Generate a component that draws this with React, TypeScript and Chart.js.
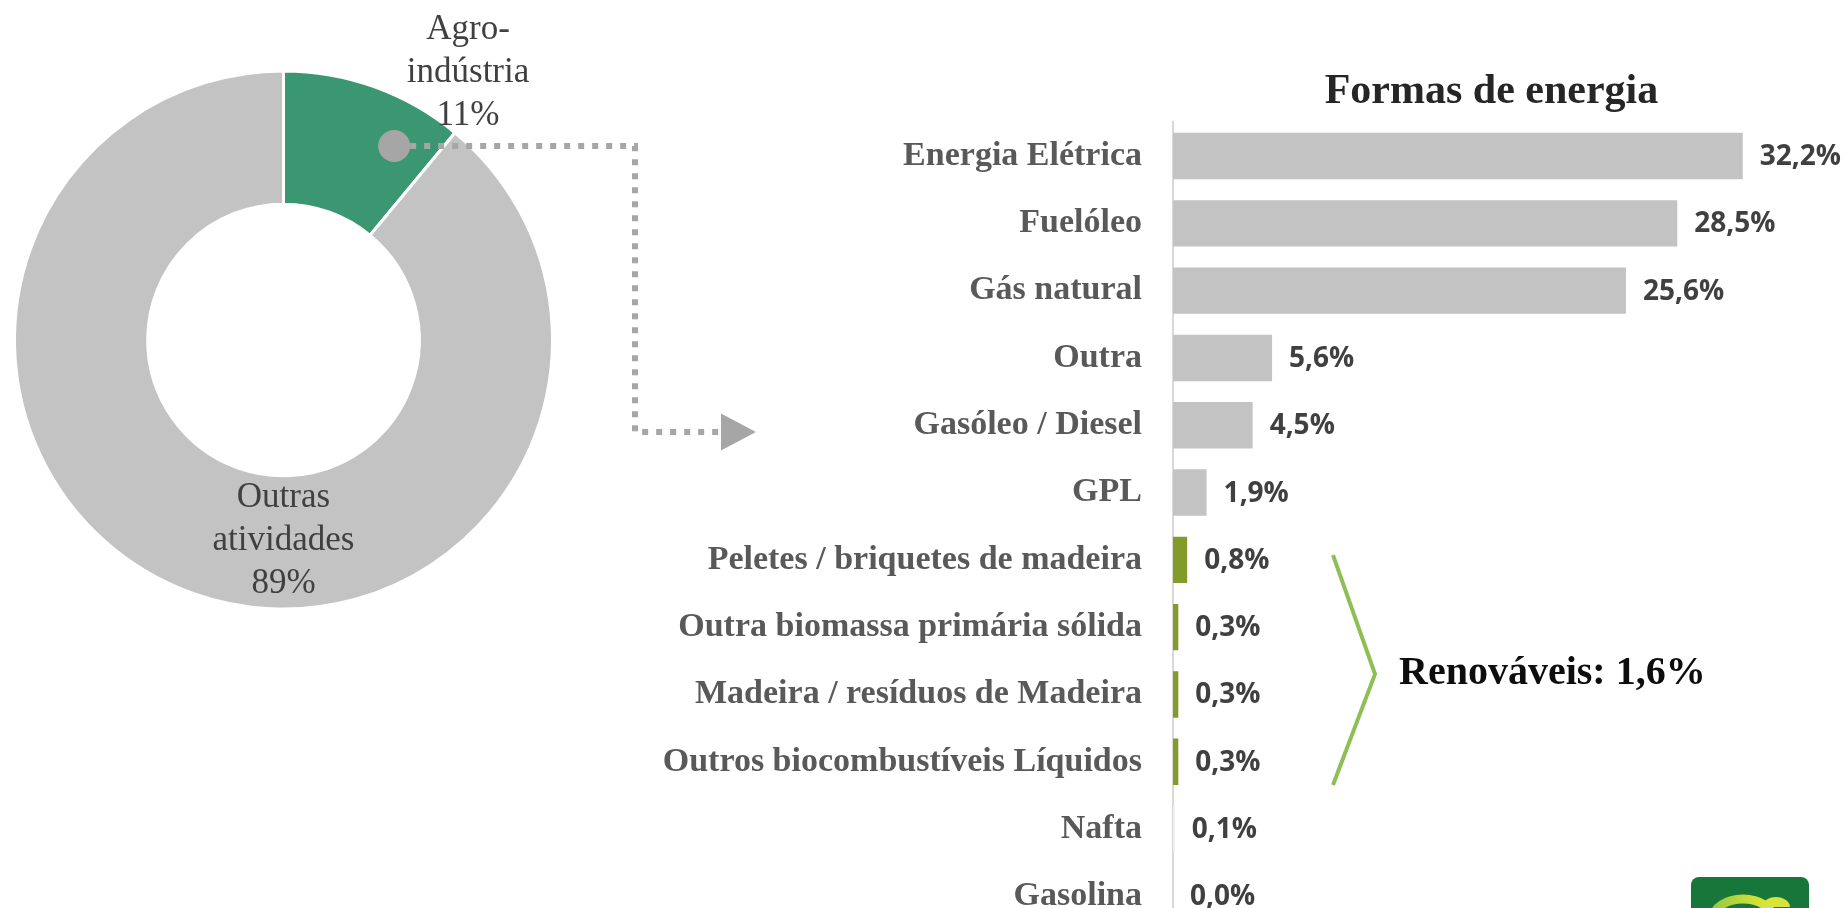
import React, { useEffect, useRef } from "react";
import { Chart, registerables } from "chart.js";

Chart.register(...registerables);

// ---------- data ----------
const sectorLabels: string[][] = [["Agro-", "indústria"], ["Outras", "atividades"]];
const sectorValues: number[] = [11, 89];

const energyLabels: string[] = [
  "Energia Elétrica",
  "Fuelóleo",
  "Gás natural",
  "Outra",
  "Gasóleo / Diesel",
  "GPL",
  "Peletes / briquetes de madeira",
  "Outra biomassa primária sólida",
  "Madeira / resíduos de Madeira",
  "Outros biocombustíveis Líquidos",
  "Nafta",
  "Gasolina",
];
const energyValues: number[] = [32.2, 28.5, 25.6, 5.6, 4.5, 1.9, 0.8, 0.3, 0.3, 0.3, 0.1, 0.0];
const energyGroups: string[] = [
  "other", "other", "other", "other", "other", "other",
  "renewable", "renewable", "renewable", "renewable",
  "faint", "other",
];
const chartTitle = "Formas de energia";
const renewableText = "Renováveis: 1,6%";

// ---------- styles ----------
const sectorColors = ["#3b9771", "#c3c3c3"];
const groupColors: Record<string, string> = {
  other: "#c3c3c3",
  renewable: "#829b2b",
  faint: "#eeeeee",
};
const SERIF = '"Liberation Serif", "Times New Roman", serif';
const SANS = '"Open Sans", Roboto, sans-serif';

const fmtPct = (v: number) => v.toFixed(1).replace(".", ",") + "%";

const donutDecor = {
  id: "donutDecor",
  afterDraw(chart: any) {
    const { ctx } = chart;
    const meta = chart.getDatasetMeta(0);
    const arc: any = meta.data[0];
    const cx = arc.x;
    const cy = arc.y;
    const R = arc.outerRadius;
    const r0 = arc.innerRadius;
    // marker dot on the agro slice
    const a = arc.startAngle + 0.75 * (arc.endAngle - arc.startAngle);
    const rr = r0 + 0.657 * (R - r0);
    const dx = cx + rr * Math.cos(a);
    const dy = cy + rr * Math.sin(a);

    ctx.save();
    // dotted connector
    const vx = 635;
    const hy = 432;
    const ax = 721;
    ctx.strokeStyle = "#a6a6a6";
    ctx.lineWidth = 6;
    ctx.setLineDash([6, 8]);
    ctx.lineCap = "butt";
    ctx.beginPath();
    ctx.moveTo(dx + 16, dy);
    ctx.lineTo(vx, dy);
    ctx.lineTo(vx, hy);
    ctx.lineTo(ax, hy);
    ctx.stroke();
    ctx.setLineDash([]);
    ctx.fillStyle = "#a6a6a6";
    ctx.beginPath();
    ctx.moveTo(ax, hy - 18.5);
    ctx.lineTo(ax + 35, hy);
    ctx.lineTo(ax, hy + 18.5);
    ctx.closePath();
    ctx.fill();
    // dot
    ctx.beginPath();
    ctx.arc(dx, dy, 16, 0, Math.PI * 2);
    ctx.fill();

    // labels
    ctx.fillStyle = "#404040";
    ctx.font = `35px ${SERIF}`;
    ctx.textAlign = "center";
    ctx.textBaseline = "middle";
    const lh = 43;
    const spots = [
      { x: cx + 0.686 * R, y: cy - 0.993 * R },
      { x: cx, y: cy + 0.748 * R },
    ];
    sectorLabels.forEach((lines, i) => {
      const all = [...lines, sectorValues[i] + "%"];
      const p = spots[i];
      all.forEach((t, j) => {
        ctx.fillText(t, p.x, p.y + (j - 1) * lh);
      });
    });
    ctx.restore();
  },
};

const barDecor = {
  id: "barDecor",
  afterDatasetsDraw(chart: any) {
    const { ctx, chartArea } = chart;
    const meta = chart.getDatasetMeta(0);
    ctx.save();
    ctx.font = `bold 28px ${SANS}`;
    ctx.fillStyle = "#404040";
    ctx.textAlign = "left";
    ctx.textBaseline = "middle";
    meta.data.forEach((bar: any, i: number) => {
      ctx.fillText(fmtPct(energyValues[i]), bar.x + 17, bar.y + 1);
    });

    // bracket for renewables
    const idx = energyGroups
      .map((g, i) => (g === "renewable" ? i : -1))
      .filter((i) => i >= 0);
    const first: any = meta.data[idx[0]];
    const last: any = meta.data[idx[idx.length - 1]];
    const top = first.y - 0.1 * first.height;
    const bottom = last.y + last.height / 2;
    const mid = (top + bottom) / 2 + 4;
    const bx = chartArea.left + 160;
    const tipX = chartArea.left + 202;
    ctx.strokeStyle = "#8dbf55";
    ctx.lineWidth = 4;
    ctx.lineJoin = "miter";
    ctx.beginPath();
    ctx.moveTo(bx, top);
    ctx.lineTo(tipX, mid);
    ctx.lineTo(bx, bottom);
    ctx.stroke();

    ctx.fillStyle = "#0d0d0d";
    ctx.font = `bold 40px ${SERIF}`;
    ctx.textAlign = "left";
    ctx.textBaseline = "middle";
    ctx.fillText(renewableText, chartArea.left + 226, mid);

    // small logo badge (bottom right)
    const lx = 1691;
    const ly = 877;
    ctx.fillStyle = "#17763a";
    ctx.beginPath();
    (ctx as any).roundRect(lx, ly, 118, 70, 8);
    ctx.fill();
    const g = ctx.createLinearGradient(lx + 15, 0, lx + 80, 0);
    g.addColorStop(0, "#8cc63f");
    g.addColorStop(1, "#e5e835");
    ctx.strokeStyle = g;
    ctx.lineWidth = 9;
    ctx.beginPath();
    ctx.ellipse(lx + 52, ly + 42, 30, 20, 0, Math.PI, Math.PI * 2);
    ctx.stroke();
    ctx.fillStyle = "#d8e43a";
    ctx.beginPath();
    ctx.ellipse(lx + 85, ly + 30, 14, 10, 0, Math.PI, Math.PI * 2);
    ctx.fill();
    ctx.restore();
  },
};

export default function App() {
  const donutRef = useRef<HTMLCanvasElement>(null);
  const barRef = useRef<HTMLCanvasElement>(null);

  useEffect(() => {
    const donut = new Chart(donutRef.current as HTMLCanvasElement, {
      type: "doughnut",
      data: {
        labels: sectorLabels.map((l) => l.join("")),
        datasets: [
          {
            data: sectorValues,
            backgroundColor: sectorColors,
            borderColor: "#ffffff",
            borderWidth: 3,
          },
        ],
      },
      options: {
        responsive: false,
        animation: false,
        devicePixelRatio: 1,
        cutout: "50.5%",
        layout: { padding: { left: 13, top: 69.5, right: 246, bottom: 89.5 } },
        plugins: { legend: { display: false }, tooltip: { enabled: false } },
      },
      plugins: [donutDecor],
    } as any);

    const bar = new Chart(barRef.current as HTMLCanvasElement, {
      type: "bar",
      data: {
        labels: energyLabels,
        datasets: [
          {
            data: energyValues,
            backgroundColor: energyGroups.map((g) => groupColors[g]),
            borderWidth: 0,
            barPercentage: 0.69,
            categoryPercentage: 1,
          },
        ],
      },
      options: {
        indexAxis: "y",
        responsive: false,
        animation: false,
        devicePixelRatio: 1,
        layout: { padding: { left: 0, right: 35, top: 0, bottom: 13 } },
        scales: {
          x: { display: false, min: 0, max: 36 },
          y: {
            afterFit: (s: any) => {
              s.width = 1173;
              s.paddingTop = 0;
              s.paddingBottom = 0;
            },
            grid: { display: false, drawTicks: false },
            border: { display: true, color: "#d9d9d9", width: 2 },
            ticks: {
              padding: 31,
              color: "#595959",
              font: { family: SERIF, size: 34, weight: "bold" },
            },
          },
        },
        plugins: {
          legend: { display: false },
          tooltip: { enabled: false },
          title: {
            display: true,
            text: chartTitle,
            fullSize: false,
            color: "#262626",
            font: { family: SERIF, size: 42, weight: "bold" },
            padding: { top: 67, bottom: 5 },
          },
        },
      },
      plugins: [barDecor],
    } as any);

    return () => {
      donut.destroy();
      bar.destroy();
    };
  }, []);

  return (
    <div
      style={{
        position: "absolute",
        left: 0,
        top: 0,
        width: 1845,
        height: 908,
        overflow: "hidden",
        background: "#ffffff",
      }}
    >
      <canvas
        ref={donutRef}
        width={800}
        height={700}
        style={{ position: "absolute", left: 0, top: 0, width: 800, height: 700 }}
      />
      <canvas
        ref={barRef}
        width={1845}
        height={943}
        style={{ position: "absolute", left: 0, top: 0, width: 1845, height: 943 }}
      />
    </div>
  );
}
